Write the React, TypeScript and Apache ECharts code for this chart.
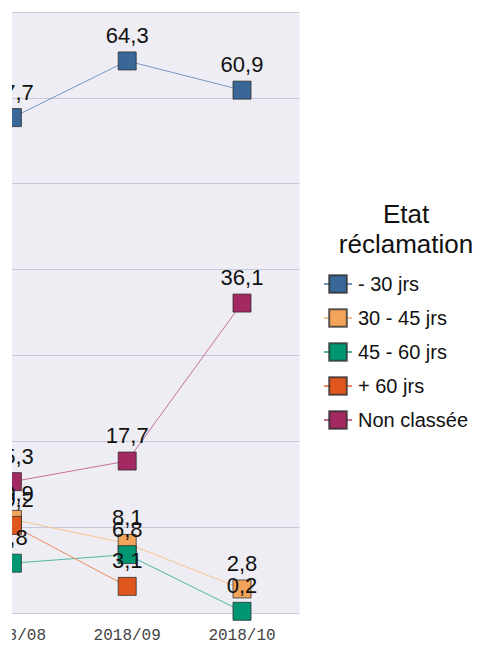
import React, { useEffect, useRef } from "react";
import * as echarts from "echarts";

const categories = ["2018/08", "2018/09", "2018/10"];
const seriesNames = ["- 30 jrs", "30 - 45 jrs", "45 - 60 jrs", "+ 60 jrs", "Non classée"];
const moins30 = [57.7, 64.3, 60.9];
const de30a45 = [10.9, 8.1, 2.8];
const de45a60 = [5.8, 6.8, 0.2];
const plus60 = [10.2, 3.1, null];
const nonClassee = [15.3, 17.7, 36.1];
const fillColors = ["#386798", "#f2a55a", "#009673", "#e0571e", "#a22961"];
const lineColors = ["#7596c4", "#f6c493", "#52b79c", "#ee8a62", "#c86e98"];

export default function App() {
  const ref = useRef<HTMLDivElement>(null);
  useEffect(() => {
    if (!ref.current) return;
    const chart = echarts.init(ref.current, null, { renderer: "svg" });
    const datas = [moins30, de30a45, de45a60, plus60, nonClassee];
    const series = datas.map((d, i) => ({
      name: seriesNames[i],
      type: "line",
      data: d,
      symbol: "rect",
      symbolSize: 18,
      showAllSymbol: true,
      connectNulls: false,
      lineStyle: { color: lineColors[i], width: 1 },
      itemStyle: { color: fillColors[i], borderColor: "rgba(40,40,40,0.75)", borderWidth: 1 },
      label: {
        show: true,
        position: "top",
        distance: 5,
        fontFamily: "Liberation Sans, Arial, sans-serif",
        fontSize: 22,
        color: "#111",
        formatter: (p: any) => String(p.value).replace(".", ","),
      },
      emphasis: { disabled: true },
    }));
    chart.setOption({
      animation: false,
      grid: { left: 43, top: 12, width: 344.4, height: 601, backgroundColor: "#eeedf3", show: true, borderWidth: 0 },
      xAxis: {
        type: "category",
        data: categories,
        boundaryGap: true,
        axisLine: { show: false },
        axisTick: { show: false },
        axisLabel: { color: "#444", fontFamily: "Liberation Mono, monospace", fontSize: 16, margin: 15 },
      },
      yAxis: {
        type: "value",
        min: 0,
        max: 70,
        interval: 10,
        axisLabel: { show: false },
        axisLine: { show: false },
        axisTick: { show: false },
        splitLine: { lineStyle: { color: "#c9c7dc", width: 1 } },
      },
      legend: {
        orient: "vertical",
        left: 406,
        top: 269,
        itemWidth: 28,
        itemHeight: 22,
        itemGap: 14,
        data: seriesNames,
        textStyle: { fontFamily: "Liberation Sans, Arial, sans-serif", fontSize: 20, color: "#111", padding: [0, 0, 0, 1] },
      },
      graphic: [
        {
          type: "text",
          x: 494,
          y: 199,
          style: {
            text: "Etat\nréclamation",
            textAlign: "center",
            fontFamily: "Liberation Sans, Arial, sans-serif",
            fontSize: 26,
            lineHeight: 30,
            fill: "#111",
          },
        },
      ],
      series,
    });
    return () => chart.dispose();
  }, []);
  return (
    <div style={{ position: "absolute", left: 12, top: 0, width: 470, height: 645, overflow: "hidden", background: "#fff" }}>
      <div ref={ref} style={{ position: "absolute", left: -100, top: 0, width: 570, height: 645 }} />
    </div>
  );
}
